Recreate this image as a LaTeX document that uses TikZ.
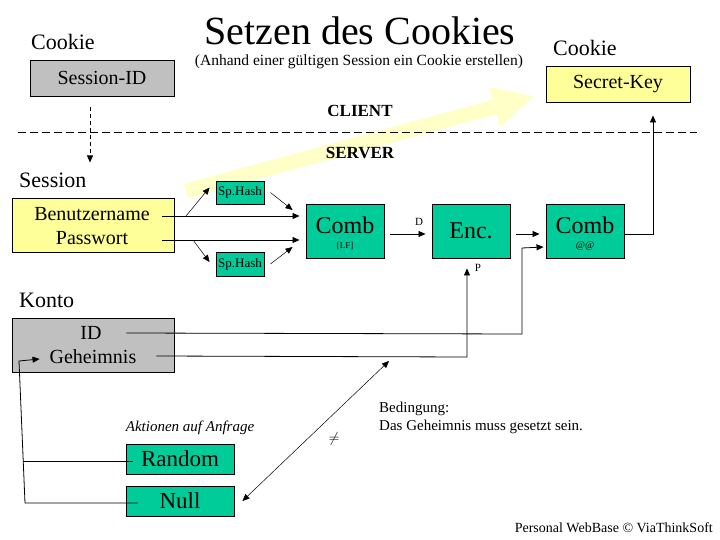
\documentclass[tikz,border=0pt]{standalone}
\usepackage{fontspec}
\setmainfont{Liberation Serif}
\usetikzlibrary{arrows.meta,calc}
\definecolor{boxgray}{RGB}{192,192,192}
\definecolor{boxyellow}{RGB}{255,255,153}
\definecolor{boxgreen}{RGB}{0,204,153}
\definecolor{paleyellow}{RGB}{255,255,200}
\newcommand{\fs}[1]{\fontsize{#1}{#1}\selectfont}
\begin{document}
\begin{tikzpicture}[x=1pt,y=-1pt,
  box/.style={draw=black,line width=0.9pt,inner sep=0pt,anchor=center},
  graybox/.style={box,fill=boxgray},
  yellowbox/.style={box,fill=boxyellow},
  greenbox/.style={box,fill=boxgreen},
  txt/.style={inner sep=0pt,anchor=center},
  heading/.style={txt,font=\fs{22}},
  arr/.style={line width=0.8pt,-{Triangle[length=7pt,width=6pt]}},
  thinarr/.style={line width=0.5pt,-{Triangle[length=7pt,width=6pt]}},
  line/.style={line width=0.8pt}]
\useasboundingbox (0,0) rectangle (720,540);
\fill[white] (0,0) rectangle (720,540);

% broad pale arrow from server to client
\draw[paleyellow,line width=15pt,-{Triangle[length=42pt,width=38pt]}]
  (186,191) -- (535,96);

% title
\node[txt,font=\fs{40}] (title) at (360,31) {Setzen des Cookies};
\node[txt,font=\fs{15.5}] (subtitle) at (359,62) {(Anhand einer gültigen Session ein Cookie erstellen)};

% client / server border
\coordinate (bl) at (18,132);
\coordinate (br) at (697,132);
\draw[line width=0.8pt,dash pattern=on 8pt off 4pt] (bl) -- (br);
\node[txt,font=\bfseries\fs{17}] (client) at (360,111) {CLIENT};
\node[txt,font=\bfseries\fs{17}] (server) at (360,153) {SERVER};

% cookies
\node[heading,anchor=west] (cookieL) at (31,42) {Cookie};
\node[graybox,minimum width=144pt,minimum height=36pt,font=\fs{20}] (sid) at (102,78) {Session-ID};
\node[heading,anchor=west] (cookieR) at (553,48) {Cookie};
\node[yellowbox,minimum width=144pt,minimum height=36pt,font=\fs{20}] (skey) at (618,84) {Secret-Key};

% session
\node[heading,anchor=west] (sesslbl) at (19,180) {Session};
\node[yellowbox,minimum width=162pt,minimum height=54pt] (sess) at (93,225) {};
\node[txt,font=\fs{20}] (bn) at (92,214) {Benutzername};
\node[txt,font=\fs{20}] (pw) at (92,238) {Passwort};

% account
\node[heading,anchor=west] (kontolbl) at (19,300) {Konto};
\node[graybox,minimum width=162pt,minimum height=54pt] (konto) at (93,345) {};
\node[txt,font=\fs{20}] (id) at (91,333) {ID};
\node[txt,font=\fs{20}] (geh) at (93,357) {Geheimnis};

% hashes and processing blocks
\node[greenbox,minimum width=48pt,minimum height=23pt,font=\fs{13}] (hash1) at (240,192.5) {Sp.Hash};
\node[greenbox,minimum width=48pt,minimum height=24pt,font=\fs{13}] (hash2) at (240,264) {Sp.Hash};
\node[greenbox,minimum width=78pt,minimum height=54pt] (comb1) at (345,231) {};
\node[txt,font=\fs{24}] (comb1t) at (345,225) {Comb};
\node[txt,font=\fs{9}] (comb1s) at (345,246) {[LF]};
\node[greenbox,minimum width=78pt,minimum height=54pt,font=\fs{24}] (enc) at (471,231) {Enc.};
\node[greenbox,minimum width=78pt,minimum height=54pt] (comb2) at (585,231) {};
\node[txt,font=\fs{24}] (comb2t) at (585,225) {Comb};
\node[txt,font=\fs{10}] (comb2s) at (585,246) {@@};
\node[txt,font=\fs{11}] (dlbl) at (419,222) {D};
\node[txt,font=\fs{11}] (plbl) at (478,268) {P};

% actions
\node[txt,font=\itshape\fs{15}] (akt) at (190,428) {Aktionen auf Anfrage};
\node[greenbox,minimum width=108pt,minimum height=30pt,font=\fs{23}] (random) at (180,459) {Random};
\node[greenbox,minimum width=108pt,minimum height=30pt,font=\fs{23}] (null) at (180,501) {Null};

% condition
\node[txt,anchor=north west,align=left,font=\fs{15}] (cond) at (379,402) {Bedingung:\\[3pt]Das Geheimnis muss gesetzt sein.};
\node[txt,font=\fs{14}] (neq) at (334,439) {$\neq$};
\node[txt,anchor=east,font=\fs{14}] (copy) at (713,528) {Personal WebBase © ViaThinkSoft};

% session id goes to the server
\draw[line width=0.7pt,dash pattern=on 4pt off 3pt,-{Triangle[length=7pt,width=6pt]}]
  ($(sid.south)+(-12,11)$) -- ($(sid.south)+(-12,66)$);

% user name and password into the first combination
\coordinate (bnsplit) at (186,216);
\coordinate (pwsplit) at (193,240);
\draw[arr] ($(sess.east)+(-12,-9)$) -- ($(comb1.west)+(-6,-15)$);
\draw[arr] ($(sess.east)+(-12,15)$) -- ($(comb1.west)+(-6,9)$);
\draw[thinarr] (bnsplit) -- ($(hash1.west)+(-6,-5)$);
\draw[thinarr] (pwsplit) -- ($(hash2.west)+(-6,-2)$);
\draw[thinarr] ($(hash1.east)+(6,0)$) -- ($(comb1.west)+(-13,-21)$);
\draw[thinarr] ($(hash2.east)+(6,0)$) -- ($(comb1.west)+(-13,16)$);

% chain of processing
\draw[arr] ($(comb1.east)+(6,3)$) -- ($(enc.west)+(-6,3)$);
\draw[arr] ($(enc.east)+(6,3)$) -- ($(comb2.west)+(-6,3)$);
\draw[arr] ($(comb2.east)+(0,3)$) -| ($(skey.south)+(35,13)$);

% account data into the encryption and combination
\draw[arr] ($(konto.east)+(-48,-12)$) -- (522,334) -- (522,248) -- ($(comb2.west)+(-2,16)$);
\draw[arr] ($(konto.east)+(-18,11)$) -- (467,357) -- ($(enc.south)+(-4,10)$);

% condition arrow between secret and null
\coordinate (condtip) at (389,361);
\draw[line width=0.5pt,{Triangle[length=7pt,width=6pt]}-{Triangle[length=7pt,width=6pt]}]
  ($(null.east)+(8,0)$) -- (condtip);

% actions reset the secret
\draw[line] ($(random.west)+(7,2)$) -- (23,461);
\draw[arr] ($(null.west)+(12,2)$) -- (25,503) -- (19,361) -- ($(konto.west)+(28,14)$);
\end{tikzpicture}
\end{document}
